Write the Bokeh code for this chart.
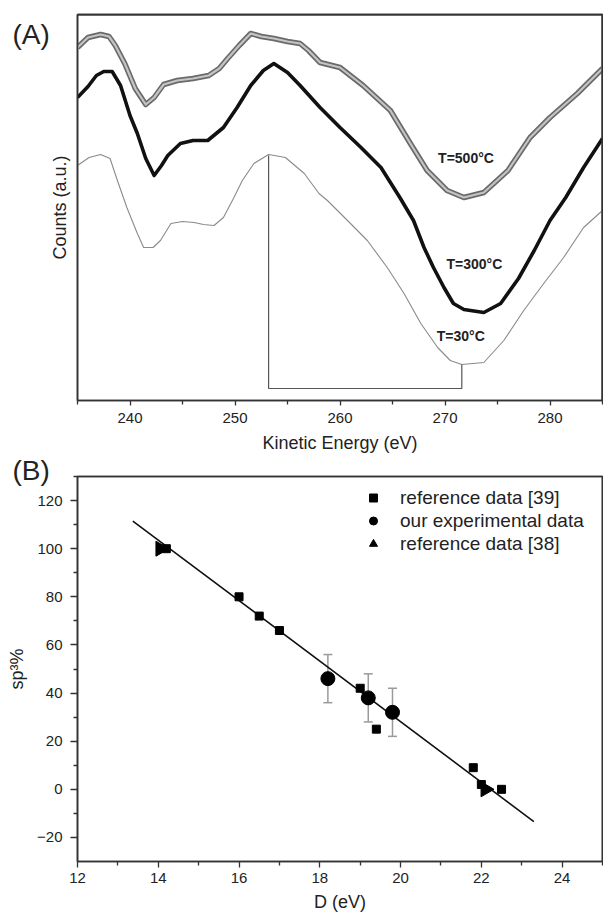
import math
from bokeh.plotting import figure
from bokeh.layouts import column
from bokeh.models import (Range1d, FixedTicker, Label, Legend, LegendItem, Whisker,
                          ColumnDataSource, TeeHead, LinearAxis, Span)
from bokeh.embed import file_html
from bokeh.resources import INLINE
from bokeh.core.properties import value

FONT = "Liberation Sans"

# ---------------- Panel A data (Auger spectra, arbitrary units) ----------------
ke_500 = [235.0, 236.0, 237.2, 238.0, 238.6, 239.5, 240.5, 241.5, 242.3, 243.2, 244.5, 246.0,
          247.5, 248.5, 249.3, 250.4, 251.5, 252.5, 253.7, 255.0, 256.2, 257.0, 258.1, 260.0,
          262.2, 264.8, 266.7, 268.3, 270.2, 271.8, 273.7, 276.0, 278.1, 280.0, 282.6, 285.0]
counts_500 = [353, 363, 366, 364, 355, 337, 312, 296, 303, 316, 320, 322,
              325, 332, 342, 355, 367, 364, 362, 359, 357, 350, 338, 333,
              315, 290, 257, 230, 210, 203, 208, 230, 263, 283, 307, 332]

ke_300 = [235.0, 236.0, 236.8, 237.5, 238.3, 239.1, 240.0, 240.7, 241.5, 242.3, 243.0, 243.6,
          244.8, 246.0, 247.4, 248.9, 250.2, 251.5, 252.7, 253.7, 255.0, 256.2, 258.1, 260.0,
          262.0, 263.9, 265.7, 267.0, 268.0, 268.9, 269.9, 270.8, 271.8, 273.7, 275.3, 277.0,
          278.5, 280.0, 281.5, 283.2, 285.0]
counts_300 = [303, 314, 325, 329, 329, 315, 285, 267, 242, 225, 235, 245,
              257, 260, 260, 273, 293, 315, 330, 337, 328, 315, 293, 273,
              253, 233, 203, 180, 153, 133, 113, 97, 91, 88, 97, 122,
              150, 180, 203, 233, 262]

ke_30 = [235.0, 236.1, 237.2, 238.1, 238.8, 239.7, 240.7, 241.3, 242.2, 242.9, 243.9, 245.0,
         246.1, 247.0, 248.0, 248.9, 249.9, 250.7, 251.8, 253.2, 254.8, 256.6, 258.0, 258.8,
         261.0, 262.6, 264.5, 266.1, 267.7, 269.3, 270.5, 271.6, 273.7, 275.6, 277.5, 279.4,
         281.3, 283.2, 285.0]
counts_30 = [235, 243, 246, 242, 220, 193, 167, 153, 153, 160, 177, 179,
             178, 176, 175, 183, 203, 220, 237, 246, 243, 227, 207, 200,
             177, 160, 133, 107, 77, 53, 40, 36, 38, 60, 90, 117,
             143, 173, 190]

# D-parameter marker (peak of derivative spectrum to minimum)
dmark_x = [253.2, 253.2, 271.6, 271.6]
dmark_y = [245, 12, 12, 36]

temp_labels = ["T=500°C", "T=300°C", "T=30°C"]
temp_label_x = [272.0, 272.8, 271.5]
temp_label_y = [243, 137, 65]

ke_ticks = [240, 250, 260, 270, 280]
ke_minor = [235, 245, 255, 265, 275, 285]

# ---------------- Panel B data ----------------
ref39_D = [14.2, 16.0, 16.5, 17.0, 19.0, 19.4, 21.8, 22.0, 22.5]
ref39_sp3 = [100, 80, 72, 66, 42, 25, 9, 2, 0]

exp_D = [18.2, 19.2, 19.8]
exp_sp3 = [46, 38, 32]
exp_err = [10, 10, 10]

ref38_D = [14.05, 22.1]
ref38_sp3 = [100, 0]

fit_D = [13.37, 23.3]
fit_sp3 = [111.5, -13.4]

D_ticks = [12, 14, 16, 18, 20, 22, 24]
D_minor = [13, 15, 17, 19, 21, 23, 25]
sp3_ticks = [-20, 0, 20, 40, 60, 80, 100, 120]
sp3_minor = [-10, 10, 30, 50, 70, 90, 110, 130]

AXIS_COL = "#333333"
TEXT_COL = "#222222"


def style_axis(ax, title_size="18px"):
    ax.axis_line_color = AXIS_COL
    ax.axis_line_width = 1.5
    ax.major_tick_line_color = AXIS_COL
    ax.minor_tick_line_color = AXIS_COL
    ax.major_tick_line_width = 1.3
    ax.minor_tick_line_width = 1.3
    ax.major_tick_in = 0
    ax.minor_tick_in = 0
    ax.major_label_text_font = FONT
    ax.major_label_text_font_size = "15px"
    ax.major_label_text_color = TEXT_COL
    ax.axis_label_text_font = FONT
    ax.axis_label_text_font_size = title_size
    ax.axis_label_text_font_style = "normal"
    ax.axis_label_text_color = TEXT_COL


def frame_axes(p):
    for side in ("above", "right"):
        ax = LinearAxis(ticker=FixedTicker(ticks=[]))
        ax.axis_line_color = AXIS_COL
        ax.axis_line_width = 1.6
        ax.major_tick_out = 0
        ax.minor_tick_out = 0
        ax.major_tick_in = 0
        ax.minor_tick_in = 0
        ax.major_label_standoff = 0
        ax.major_label_text_font_size = "0px"
        p.add_layout(ax, side)


# ---------------- Panel A ----------------
pA = figure(width=603, height=455, output_backend="svg", toolbar_location=None,
            x_range=Range1d(235, 285), y_range=Range1d(0, 386),
            min_border_left=77, min_border_right=1, min_border_top=14, min_border_bottom=55)
pA.grid.visible = False
pA.outline_line_color = AXIS_COL
pA.outline_line_width = 1.6

xa = pA.below[0]
xa.ticker = FixedTicker(ticks=ke_ticks, minor_ticks=ke_minor)
style_axis(xa)
xa.major_tick_out = 5
xa.minor_tick_out = 4
xa.major_label_standoff = 7
xa.axis_label = "Kinetic Energy (eV)"
xa.axis_label_standoff = 7

ya = pA.left[0]
ya.ticker = FixedTicker(ticks=[])
style_axis(ya)
ya.major_tick_out = 0
ya.minor_tick_out = 0
ya.major_label_standoff = 0
ya.axis_label = "Counts (a.u.)"
ya.axis_label_standoff = 8

frame_axes(pA)

# top and right edges of the frame of panel A (closed box as in the reference)
pA.add_layout(Span(location=386, dimension="width", line_color=AXIS_COL, line_width=2))
pA.add_layout(Span(location=285, dimension="height", line_color=AXIS_COL, line_width=2))

# spectra
pA.line(ke_500, counts_500, line_color="#6a6a6a", line_width=5.5, line_join="round")
pA.line(ke_500, counts_500, line_color="#c4c4c4", line_width=2.2, line_join="round")
pA.line(ke_300, counts_300, line_color="#111111", line_width=3.6, line_join="round")
pA.line(ke_30, counts_30, line_color="#8a8a8a", line_width=1.1, line_join="round")
pA.line(dmark_x, dmark_y, line_color="#555555", line_width=1.2)

pA.text(x=temp_label_x, y=temp_label_y, text=temp_labels,
        text_font=value(FONT), text_font_size="14px", text_font_style="bold",
        text_color=TEXT_COL, text_align="center", text_baseline="middle")

# panel tag "(A)" placed in the left side panel so it is not clipped to the frame
pA.add_layout(Label(x=228.8, y=366, text="(A)",
                    text_font=FONT, text_font_size="28px", text_color=TEXT_COL,
                    text_baseline="alphabetic", text_align="left"), "left")

# ---------------- Panel B ----------------
pB = figure(width=603, height=459, output_backend="svg", toolbar_location=None,
            x_range=Range1d(12, 25), y_range=Range1d(-30, 130),
            min_border_left=77, min_border_right=1, min_border_top=21, min_border_bottom=52)
pB.grid.visible = False
pB.outline_line_color = AXIS_COL
pB.outline_line_width = 1.6

xb = pB.below[0]
xb.ticker = FixedTicker(ticks=D_ticks, minor_ticks=D_minor)
style_axis(xb)
xb.major_tick_out = 6
xb.minor_tick_out = 4
xb.major_label_standoff = 5
xb.axis_label = "D (eV)"
xb.axis_label_standoff = 6

yb = pB.left[0]
yb.ticker = FixedTicker(ticks=sp3_ticks, minor_ticks=sp3_minor)
style_axis(yb)
yb.major_tick_out = 7
yb.minor_tick_out = 4
yb.major_label_standoff = 8
yb.axis_label = "sp³%"
yb.axis_label_standoff = 7

frame_axes(pB)

# panel tag "(B)" as the plot title, pulled left and down beside the frame corner
pB.title.text = "(B)"
pB.title.align = "left"
pB.title.vertical_align = "bottom"
pB.title.offset = -65
pB.title.text_font = FONT
pB.title.text_font_size = "28px"
pB.title.text_font_style = "normal"
pB.title.text_color = TEXT_COL
try:
    pB.title.standoff = -18
except Exception:
    pB.title.standoff = 0

pB.line(fit_D, fit_sp3, line_color="#111111", line_width=1.6)

err_src = ColumnDataSource(dict(
    x=exp_D,
    upper=[v + e for v, e in zip(exp_sp3, exp_err)],
    lower=[v - e for v, e in zip(exp_sp3, exp_err)],
))
pB.add_layout(Whisker(source=err_src, base="x", upper="upper", lower="lower",
                      line_color="#9a9a9a", line_width=1.5,
                      upper_head=TeeHead(size=9, line_color="#9a9a9a", line_width=1.5),
                      lower_head=TeeHead(size=9, line_color="#9a9a9a", line_width=1.5)))

r_sq = pB.scatter(ref39_D, ref39_sp3, marker="square", size=8,
                  fill_color="#000000", line_color="#000000")
r_ci = pB.scatter(exp_D, exp_sp3, marker="circle", size=14,
                  fill_color="#000000", line_color="#000000")
r_tr = pB.scatter(ref38_D, ref38_sp3, marker="triangle", size=15, angle=-math.pi / 2,
                  fill_color="#000000", line_color="#000000")

legend = Legend(items=[
    LegendItem(label="reference data [39]", renderers=[r_sq]),
    LegendItem(label="our experimental data", renderers=[r_ci]),
    LegendItem(label="reference data [38]", renderers=[r_tr]),
], location=(286, 306))
legend.padding = 0
legend.margin = 0
legend.spacing = 0
legend.glyph_width = 20
legend.glyph_height = 23
legend.label_height = 23
legend.label_standoff = 17
legend.label_text_font = FONT
legend.label_text_font_size = "19px"
legend.label_text_color = TEXT_COL
legend.border_line_alpha = 0
legend.background_fill_alpha = 0
pB.add_layout(legend, "center")

layout = column(pA, pB, spacing=0)
open("out.html", "w").write(file_html(layout, INLINE))
